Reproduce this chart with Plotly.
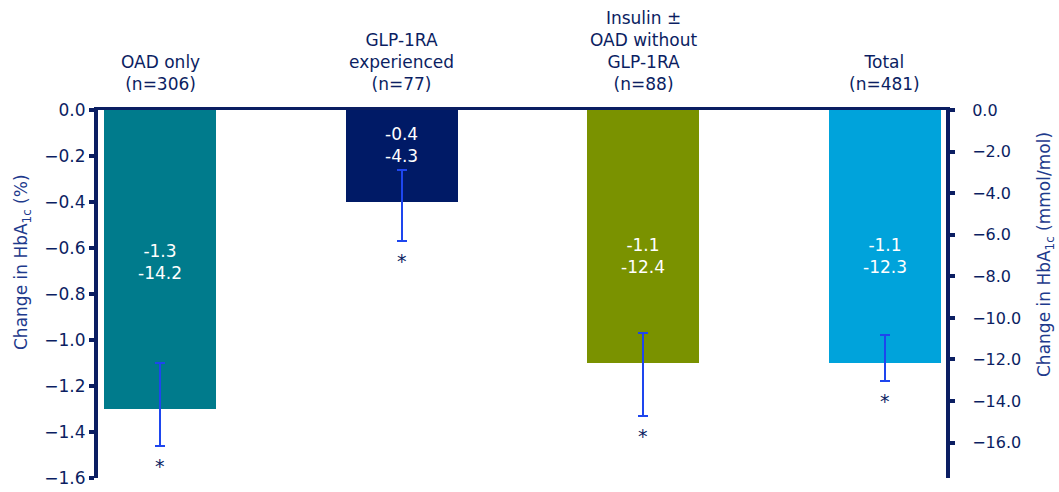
import plotly.graph_objects as go

# Treatment groups and results
groups = ["OAD only<br>(n=306)", "GLP-1RA<br>experienced<br>(n=77)",
          "Insulin ±<br>OAD without<br>GLP-1RA<br>(n=88)", "Total<br>(n=481)"]
change_pct = [-1.3, -0.4, -1.1, -1.1]          # change in HbA1c, %
change_mmol = [-14.2, -4.3, -12.4, -12.3]      # change in HbA1c, mmol/mol
err_up = [0.20, 0.14, 0.13, 0.12]
err_down = [0.16, 0.17, 0.23, 0.08]
bar_colors = ["#007B8C", "#001A66", "#7A9200", "#00A3DB"]

# vertical placement of the in-bar value labels (in % units)
label_y = [-0.66, -0.15, -0.635, -0.635]

NAVY = "#0B1E62"
TITLE = "#1E3A8C"
FONT = "DejaVu Sans"
xs = list(range(len(groups)))

fig = go.Figure()
fig.add_trace(go.Bar(
    x=xs, y=change_pct, width=0.464,
    marker=dict(color=bar_colors, line=dict(width=0)),
    error_y=dict(type="data", symmetric=False, array=err_up, arrayminus=err_down,
                 color="#1E46EE", thickness=2, width=5),
    showlegend=False, hoverinfo="skip",
))
# invisible trace to activate the right-hand mmol/mol axis
fig.add_trace(go.Scatter(x=[xs[0]], y=[0], yaxis="y2", mode="markers",
                         marker=dict(opacity=0), showlegend=False, hoverinfo="skip"))

annotations = []
for i in xs:
    annotations.append(dict(
        x=i, y=label_y[i], xref="x", yref="y",
        text=f"{change_pct[i]:.1f}<br>{change_mmol[i]:.1f}",
        showarrow=False, font=dict(family=FONT, size=17, color="white"),
    ))
    annotations.append(dict(
        x=i, y=change_pct[i] - err_down[i], xref="x", yref="y",
        text="*", showarrow=False, yanchor="top", yshift=-7,
        font=dict(family=FONT, size=19, color=NAVY),
    ))
    annotations.append(dict(
        x=i, y=1, xref="x", yref="paper", text=groups[i],
        showarrow=False, yanchor="bottom", yshift=14,
        font=dict(family=FONT, size=17, color=NAVY),
    ))

W, H = 1059, 492
ML, MR, MT, MB = 98, 113, 110, 14


def px_to_paper(px, py):
    return (px - ML) / (W - ML - MR), (H - MB - py) / (H - MT - MB)


# axis titles
lx, ly = px_to_paper(22, 262)
rx, ry = px_to_paper(1045, 255)
annotations.append(dict(
    x=lx, y=ly, xref="paper", yref="paper", xanchor="center", yanchor="middle",
    text="Change in HbA<sub>1c</sub> (%)",
    showarrow=False, textangle=-90, font=dict(family=FONT, size=17, color=TITLE),
))
annotations.append(dict(
    x=rx, y=ry, xref="paper", yref="paper", xanchor="center", yanchor="middle",
    text="Change in HbA<sub>1c</sub> (mmol/mol)",
    showarrow=False, textangle=-90, font=dict(family=FONT, size=17, color=TITLE),
))

fig.update_layout(
    width=W, height=H,
    margin=dict(l=ML, r=MR, t=MT, b=MB, autoexpand=False),
    paper_bgcolor="white", plot_bgcolor="white",
    font=dict(family=FONT, size=16, color=NAVY),
    bargap=0,
    xaxis=dict(range=[-0.257, 3.254], side="top", showticklabels=False,
               showline=True, linecolor=NAVY, linewidth=3, ticks="",
               showgrid=False, zeroline=False, automargin=False, fixedrange=True),
    yaxis=dict(range=[-1.6, 0], dtick=0.2, tickformat=".1f",
               showline=True, linecolor=NAVY, linewidth=4,
               ticks="outside", ticklen=5, tickwidth=4, tickcolor=NAVY,
               showgrid=False, zeroline=False, automargin=False,
               tickfont=dict(family=FONT, size=17, color=NAVY)),
    yaxis2=dict(range=[-17.7, 0], dtick=2, tickformat=".1f", overlaying="y",
                side="right", showline=True, linecolor=NAVY, linewidth=4,
                ticks="outside", ticklen=5, tickwidth=4, tickcolor=NAVY,
                ticklabelstandoff=14,
                showgrid=False, zeroline=False, automargin=False,
                tickfont=dict(family=FONT, size=16, color=NAVY)),
    annotations=annotations,
)

fig.write_html("out.html")
